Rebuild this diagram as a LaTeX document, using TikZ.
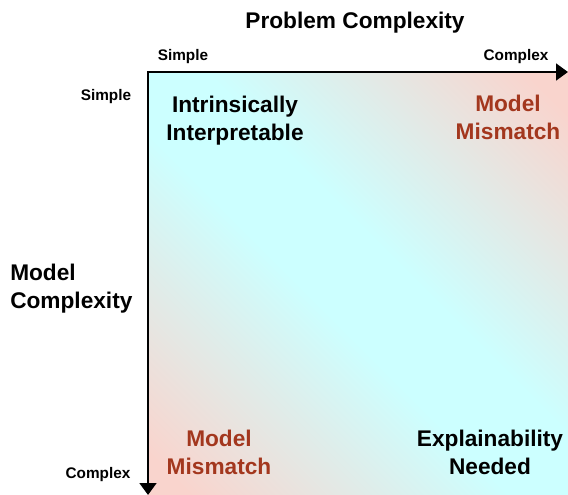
\documentclass[tikz,border=0pt]{standalone}
\usepackage{fontspec}
\setmainfont{Liberation Sans}
\usepackage{tikz}
\usetikzlibrary{arrows.meta}
\definecolor{cornerpink}{RGB}{249,212,205}
\definecolor{centercyan}{RGB}{204,255,255}
\definecolor{mismatchred}{RGB}{163,55,30}
\pgfdeclarehorizontalshading{quadrant}{100bp}{color(0bp)=(cornerpink); color(18bp)=(cornerpink); color(45bp)=(centercyan); color(55bp)=(centercyan); color(82bp)=(cornerpink); color(100bp)=(cornerpink)}
\tikzstyle{axis} = [line width=2.2pt,<->,>={Triangle[length=9pt,width=12.5pt]},line join=miter]
\tikzstyle{big} = [font=\bfseries\fontsize{17}{21}\selectfont, align=center]
\tikzstyle{tick} = [font=\bfseries\fontsize{11.5}{14}\selectfont]
\tikzstyle{mismatch} = [big, text=mismatchred]

\begin{document}
\begin{tikzpicture}[x=0.75pt, y=-0.75pt]
		\useasboundingbox (0,0) rectangle (568,495);
		\coordinate (origin) at (148,72);
		\coordinate (xend) at (568,72);
		\coordinate (yend) at (148,495);
		\shade [shading=quadrant, shading angle=45] (origin) rectangle (568,495);
		\draw [axis] (xend) -- (origin) -- (yend);
		\node (title) [big] at (355,23) {Problem Complexity};
		\node (xsimple) [tick] at (183,57) {Simple};
		\node (xcomplex) [tick] at (516,57) {Complex};
		\node (ysimple) [tick] at (106,97) {Simple};
		\node (ycomplex) [tick] at (98,475) {Complex};
		\node (ytitle) [big, align=left, anchor=west, inner sep=0pt] at (10,289) {Model\\Complexity};
		\node (interp) [big] at (235,121) {Intrinsically\\Interpretable};
		\node (mismatch1) [mismatch] at (508,117) {Model\\Mismatch};
		\node (mismatch2) [mismatch] at (219,452) {Model\\Mismatch};
		\node (explain) [big] at (490,452) {Explainability\\Needed};
\end{tikzpicture}
\end{document}
